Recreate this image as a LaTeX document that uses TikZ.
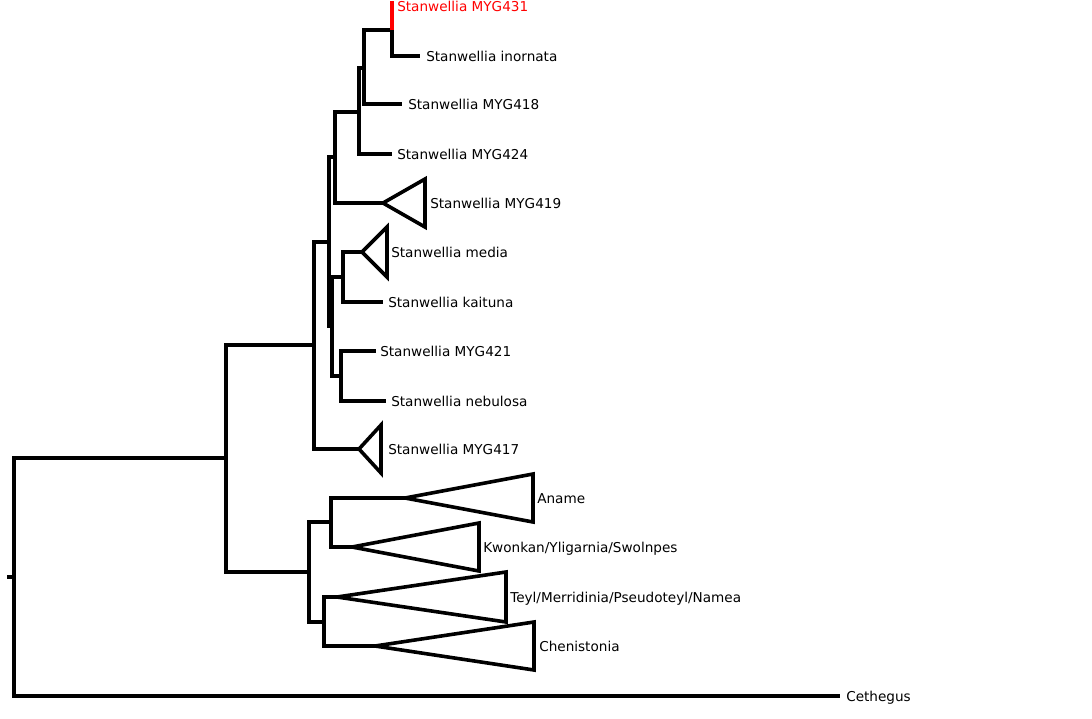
\documentclass[tikz,border=0pt]{standalone}
\usepackage{fontspec}
\setmainfont{DejaVu Sans}
\usetikzlibrary{positioning}

\tikzset{
	branch/.style = {black, line width = 2.7pt},
	tiplabel/.style = {anchor = west, inner sep = 0pt, text height = 7.5pt, text depth = 0pt, font = \fontsize{10.2}{12}\selectfont},
}

\begin{document}
\begin{tikzpicture}[x = 0.75pt, y = -0.75pt]
	\useasboundingbox (0, 0) rectangle (1092, 718);
	% inner nodes of the tree
	\coordinate (stub) at (7, 577);
	\coordinate (root) at (14, 577);
	\coordinate (n1) at (226, 458);
	\coordinate (n2) at (314, 345);
	\coordinate (n3) at (309, 572);
	\coordinate (n4) at (329, 242);
	\coordinate (n5) at (335, 157);
	\coordinate (n6) at (359, 112);
	\coordinate (n7) at (364, 68);
	\coordinate (n8) at (392, 30);
	\coordinate (n9) at (332, 326);
	\coordinate (n10) at (343, 277);
	\coordinate (n11) at (341, 376);
	\coordinate (n12) at (331, 522);
	\coordinate (n13) at (324, 622);
	% tips and clade apexes
	\coordinate (t431) at (392, 1);
	\coordinate (tinornata) at (420, 56);
	\coordinate (t418) at (402, 104);
	\coordinate (t424) at (392, 154);
	\coordinate (a419) at (383, 203);
	\coordinate (amedia) at (362, 252);
	\coordinate (tkaituna) at (383, 302);
	\coordinate (t421) at (376, 351);
	\coordinate (tnebulosa) at (386, 401);
	\coordinate (a417) at (359, 449);
	\coordinate (aaname) at (405, 498);
	\coordinate (akwonkan) at (352, 547);
	\coordinate (ateyl) at (337, 597);
	\coordinate (acheni) at (375, 646);
	\coordinate (tcethegus) at (840, 696);

	% branches
	\draw [branch] (stub) -- (root);
	\draw [branch] (root) |- (n1);
	\draw [branch] (root) |- (tcethegus);
	\draw [branch] (n1) |- (n2);
	\draw [branch] (n1) |- (n3);
	\draw [branch] (n2) |- (n4);
	\draw [branch] (n2) |- (a417);
	\draw [branch] (n4) |- (n5);
	\draw [branch] (n4) |- (n9);
	\draw [branch] (n5) |- (n6);
	\draw [branch] (n5) |- (a419);
	\draw [branch] (n6) |- (n7);
	\draw [branch] (n6) |- (t424);
	\draw [branch] (n7) |- (n8);
	\draw [branch] (n7) |- (t418);
	\draw [branch] (n8) |- (tinornata);
	\draw [branch, red] (n8) -- (t431);
	\draw [branch] (n9) |- (n10);
	\draw [branch] (n9) |- (n11);
	\draw [branch] (n10) |- (amedia);
	\draw [branch] (n10) |- (tkaituna);
	\draw [branch] (n11) |- (t421);
	\draw [branch] (n11) |- (tnebulosa);
	\draw [branch] (n3) |- (n12);
	\draw [branch] (n3) |- (n13);
	\draw [branch] (n12) |- (aaname);
	\draw [branch] (n12) |- (akwonkan);
	\draw [branch] (n13) |- (ateyl);
	\draw [branch] (n13) |- (acheni);

	% collapsed clades
	\foreach \apex/\w/\h in {a419/42/24, amedia/25/25, a417/22/24, aaname/128/24, akwonkan/127/24, ateyl/169/25, acheni/159/24}
		\draw [branch] (\apex) -- ++(\w, -\h) -- ++(0, 2*\h) -- cycle;

	% tip labels
	\node (l431) at (397, 6) [tiplabel, red] {Stanwellia MYG431};
	\node (linornata) at (426, 56) [tiplabel] {Stanwellia inornata};
	\node (l418) at (408, 104) [tiplabel] {Stanwellia MYG418};
	\node (l424) at (397, 154) [tiplabel] {Stanwellia MYG424};
	\node (l419) at (430, 203) [tiplabel] {Stanwellia MYG419};
	\node (lmedia) at (391, 252) [tiplabel] {Stanwellia media};
	\node (lkaituna) at (388, 302) [tiplabel] {Stanwellia kaituna};
	\node (l421) at (380, 351) [tiplabel] {Stanwellia MYG421};
	\node (lnebulosa) at (391, 401) [tiplabel] {Stanwellia nebulosa};
	\node (l417) at (388, 449) [tiplabel] {Stanwellia MYG417};
	\node (laname) at (537, 498) [tiplabel] {Aname};
	\node (lkwonkan) at (483, 547) [tiplabel] {Kwonkan/Yligarnia/Swolnpes};
	\node (lteyl) at (510, 597) [tiplabel] {Teyl/Merridinia/Pseudoteyl/Namea};
	\node (lcheni) at (539, 646) [tiplabel] {Chenistonia};
	\node (lcethegus) at (846, 696) [tiplabel] {Cethegus};
\end{tikzpicture}
\end{document}
